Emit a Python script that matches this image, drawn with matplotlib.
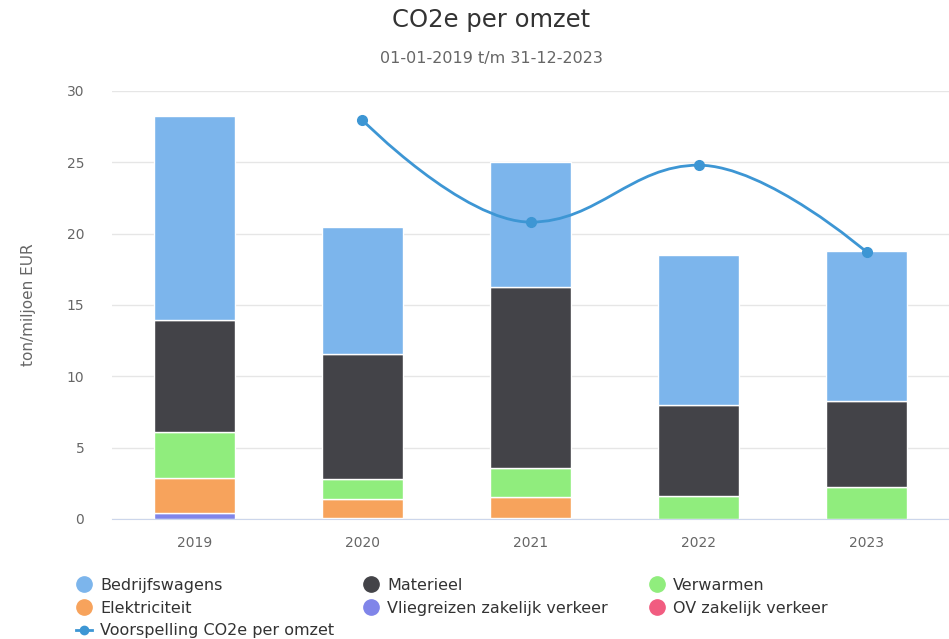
import matplotlib.pyplot as plt
from matplotlib.path import Path
from matplotlib.patches import PathPatch
from matplotlib.lines import Line2D
import numpy as np

years = ["2019", "2020", "2021", "2022", "2023"]

# stacked components, ton/miljoen EUR (bottom to top)
ov_zakelijk = [0.0, 0.08, 0.08, 0.0, 0.0]
vliegreizen = [0.42, 0.0, 0.0, 0.0, 0.0]
elektriciteit = [2.45, 1.32, 1.46, 0.0, 0.0]
verwarmen = [3.23, 1.40, 2.03, 1.61, 2.24]
materieel = [7.85, 8.76, 12.69, 6.38, 6.03]
bedrijfswagens = [14.29, 8.90, 8.76, 10.51, 10.51]

forecast_years = [1, 2, 3, 4]
forecast = [27.96, 20.81, 24.80, 18.71]

series = [
    ("OV zakelijk verkeer", ov_zakelijk, "#f15c80"),
    ("Vliegreizen zakelijk verkeer", vliegreizen, "#8085e9"),
    ("Elektriciteit", elektriciteit, "#f7a35c"),
    ("Verwarmen", verwarmen, "#90ed7d"),
    ("Materieel", materieel, "#434348"),
    ("Bedrijfswagens", bedrijfswagens, "#7cb5ec"),
]
line_color = "#3d96d4"
text_color = "#666666"


def spline_path(xs, ys, smoothing=1.5):
    """Highcharts-like spline through the points as cubic bezier segments"""
    n = len(xs)
    left = [None] * n
    right = [None] * n
    denom = smoothing + 1
    for i in range(1, n - 1):
        x, y = xs[i], ys[i]
        lx, ly = xs[i - 1], ys[i - 1]
        nx, ny = xs[i + 1], ys[i + 1]
        lcx = (smoothing * x + lx) / denom
        lcy = (smoothing * y + ly) / denom
        rcx = (smoothing * x + nx) / denom
        rcy = (smoothing * y + ny) / denom
        corr = 0
        if rcx != lcx:
            corr = ((rcy - lcy) * (rcx - x)) / (rcx - lcx) + y - rcy
        lcy += corr
        rcy += corr
        if lcy > ly and lcy > y:
            lcy = max(ly, y)
            rcy = 2 * y - lcy
        elif lcy < ly and lcy < y:
            lcy = min(ly, y)
            rcy = 2 * y - lcy
        if rcy > ny and rcy > y:
            rcy = max(ny, y)
            lcy = 2 * y - rcy
        elif rcy < ny and rcy < y:
            rcy = min(ny, y)
            lcy = 2 * y - rcy
        left[i] = (lcx, lcy)
        right[i] = (rcx, rcy)
    verts = [(xs[0], ys[0])]
    codes = [Path.MOVETO]
    for i in range(1, n):
        c1 = right[i - 1] if right[i - 1] is not None else (xs[i - 1], ys[i - 1])
        c2 = left[i] if left[i] is not None else (xs[i], ys[i])
        verts += [c1, c2, (xs[i], ys[i])]
        codes += [Path.CURVE4] * 3
    return Path(verts, codes)


fig = plt.figure(figsize=(9.49, 6.39), dpi=100)
ax = fig.add_axes([112 / 949, 1 - 519 / 639, 837 / 949, 428 / 639])

x = np.arange(len(years))
bottom = np.zeros(len(years))
for name, vals, color in series:
    ax.bar(x, vals, 0.48, bottom=bottom, color=color, edgecolor="white",
           linewidth=1, zorder=2)
    bottom += np.array(vals)

ax.add_patch(PathPatch(spline_path(forecast_years, forecast), facecolor="none",
                       edgecolor=line_color, linewidth=2, zorder=3))
ax.plot(forecast_years, forecast, "o", color=line_color, markersize=7, zorder=4)

ax.set_xlim(-0.49, 4.49)
ax.set_ylim(0, 30)
ax.set_yticks(range(0, 31, 5))
ax.set_xticks(x)
ax.set_xticklabels(years)
ax.grid(axis="y", color="#e6e6e6", linewidth=1, zorder=0)
ax.set_axisbelow(True)
for s in ["top", "right", "left"]:
    ax.spines[s].set_visible(False)
ax.spines["bottom"].set_color("#ccd6eb")
ax.tick_params(axis="both", length=0, labelsize=10, labelcolor=text_color)
ax.tick_params(axis="x", pad=12)
ax.tick_params(axis="y", pad=20)
ax.set_ylabel("ton/miljoen EUR", fontsize=11, color=text_color, labelpad=22)

fig.text(0.5 + 17 / 949, 1 - 20 / 639, "CO2e per omzet", ha="center", va="center",
         fontsize=17.5, color="#333333")
fig.text(0.5 + 17 / 949, 1 - 59 / 639, "01-01-2019 t/m 31-12-2023", ha="center",
         va="center", fontsize=11.5, color=text_color)


def dot(color):
    return Line2D([], [], marker="o", linestyle="none", markersize=11,
                  markerfacecolor=color, markeredgecolor=color)


colors = {name: color for name, _, color in series}
columns = [
    (["Bedrijfswagens", "Elektriciteit", None], 76),
    (["Materieel", "Vliegreizen zakelijk verkeer"], 363),
    (["Verwarmen", "OV zakelijk verkeer"], 649),
]
for names, xpos in columns:
    handles, labels = [], []
    for nm in names:
        if nm is None:
            handles.append(Line2D([], [], color=line_color, marker="o",
                                  markersize=6, linewidth=2))
            labels.append("Voorspelling CO2e per omzet")
        else:
            handles.append(dot(colors[nm]))
            labels.append(nm)
    leg = fig.legend(handles, labels, loc="upper left",
                     bbox_to_anchor=(xpos / 949, 1 - 578 / 639), frameon=False,
                     fontsize=11.5, handlelength=1.0, handletextpad=0.5,
                     labelspacing=0.48, borderpad=0, borderaxespad=0)
    for t in leg.get_texts():
        t.set_color("#333333")

fig.savefig("out.png", dpi=100)
